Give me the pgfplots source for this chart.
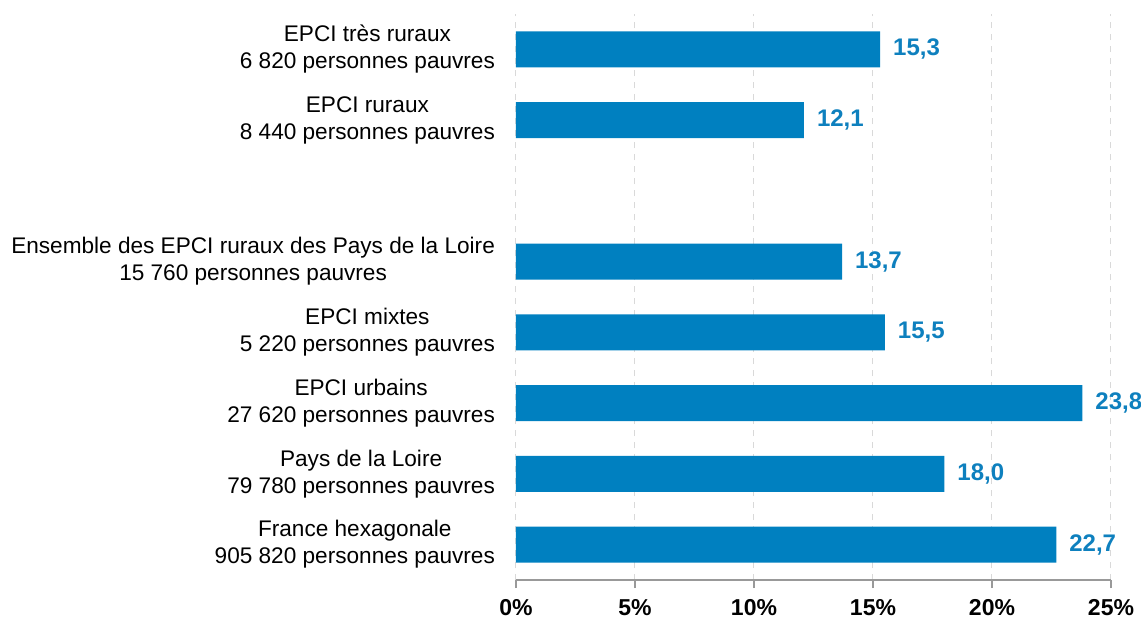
\documentclass[border=0pt]{standalone}
\usepackage{pgfplots}
\pgfplotsset{compat=1.18}
\usepackage{fontspec}
\setmainfont{Liberation Sans}
\definecolor{barblue}{RGB}{0,128,192}
\definecolor{lblblue}{RGB}{14,128,190}
\begin{document}
\begin{tikzpicture}
\begin{axis}[
    name=ax,
    xbar,
    scale only axis,
    width=297.5pt,
    height=283pt,
    bar width=18pt,
    xmin=0, xmax=25,
    ymin=-0.5, ymax=7.5,
    xtick={0,5,10,15,20,25},
    ytick={0,1,2,3,4,6,7},
    yticklabels={
        {France hexagonale\\905 820 personnes pauvres},
        {Pays de la Loire\\79 780 personnes pauvres},
        {EPCI urbains\\27 620 personnes pauvres},
        {EPCI mixtes\\5 220 personnes pauvres},
        {Ensemble des EPCI ruraux des Pays de la Loire\\15 760 personnes pauvres},
        {EPCI ruraux\\8 440 personnes pauvres},
        {EPCI très ruraux\\6 820 personnes pauvres}},
    yticklabel style={align=center, font=\fontsize{11.3}{13.5}\selectfont, xshift=-3pt},
    xticklabel={\pgfmathprintnumber{\tick}\%},
    xticklabel style={font=\fontsize{11.5}{13}\selectfont\bfseries, yshift=-2pt},
    /pgf/number format/assume math mode=true,
    axis x line*=bottom,
    axis y line*=left,
    y axis line style={draw=none},
    x axis line style={draw=gray!80, line width=0.6pt},
    major y tick style={draw=none},
    major x tick style={draw=gray!80, line width=0.6pt},
    xtick align=outside,
    major tick length=4pt,
    xmajorgrids,
    grid style={dashed, gray!30, line width=0.5pt},
    clip=false,
    nodes near coords,
    nodes near coords style={
        font=\fontsize{12}{14}\selectfont\bfseries,
        text=lblblue, anchor=west, xshift=3pt,
        /pgf/number format/.cd, fixed, fixed zerofill, precision=1, use comma, assume math mode=true},
]
\addplot[fill=barblue, draw=none] coordinates {
    (22.7,0) (18.0,1) (23.8,2) (15.5,3) (13.7,4) (12.1,6) (15.3,7)};
\end{axis}
\pgfresetboundingbox
\path (ax.south west) ++(-258pt,-19pt) rectangle ++(570.5pt,309pt);
\end{tikzpicture}
\end{document}
